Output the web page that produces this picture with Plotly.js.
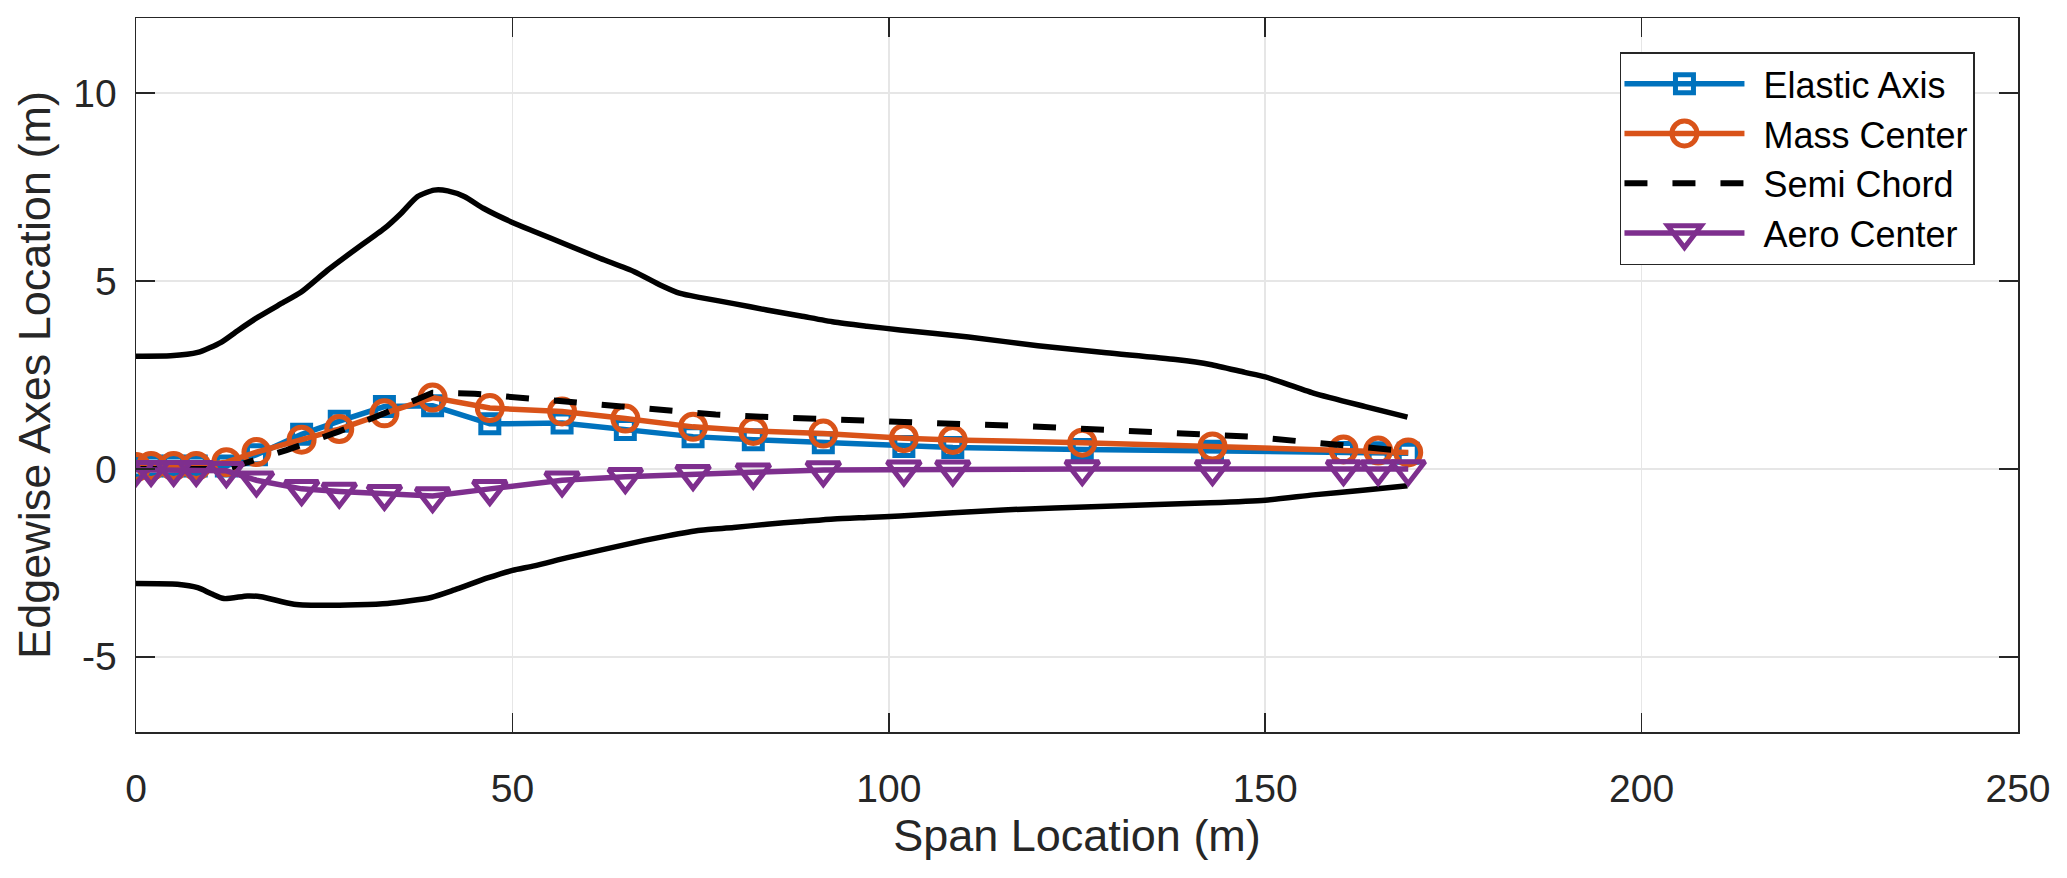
<!DOCTYPE html>
<html>
<head>
<meta charset="utf-8">
<script src="https://cdn.plot.ly/plotly-3.0.1.min.js"></script>
<style>
  html, body { margin: 0; padding: 0; background: #ffffff; }
  #chart { width: 2067px; height: 878px; }
</style>
</head>
<body>
<div id="chart"></div>
<script>
// ---- data ----
const span = [0, 2, 5, 8, 12, 16, 22, 27, 33, 39.4, 47, 56.6, 65, 74, 82, 91.3, 102, 108.5, 125.7, 143, 160.4, 165, 169];
const elasticAxis = [0.05, 0.08, 0.08, 0.08, 0.08, 0.38, 0.92, 1.27, 1.66, 1.68, 1.2, 1.22, 1.05, 0.86, 0.78, 0.7, 0.6, 0.57, 0.52, 0.47, 0.44, 0.43, 0.42];
const massCenter = [0.05, 0.08, 0.08, 0.08, 0.18, 0.45, 0.78, 1.06, 1.48, 1.9, 1.62, 1.53, 1.34, 1.12, 1.01, 0.94, 0.82, 0.77, 0.7, 0.6, 0.52, 0.49, 0.44];
const aeroCenter = [-0.02, -0.02, -0.02, -0.02, -0.05, -0.3, -0.53, -0.6, -0.66, -0.72, -0.53, -0.3, -0.21, -0.13, -0.09, -0.03, -0.01, -0.01, 0, 0, 0, 0, 0];

const chordSpan = [0, 12, 20, 27, 33, 39.4, 45, 50, 57, 64, 70, 77, 83, 90, 96, 102, 110, 117, 124, 131, 137, 144, 148, 156, 162, 169];
const semiChord = [0, 0, 0.5, 1.0, 1.48, 2.03, 2.0, 1.91, 1.8, 1.67, 1.55, 1.45, 1.39, 1.33, 1.29, 1.24, 1.19, 1.15, 1.09, 1.04, 0.99, 0.93, 0.86, 0.71, 0.6, 0.47];

const leSpan = [0, 4.6, 8.2, 11.3, 13.5, 16.2, 19.2, 21.9, 25.4, 29, 33, 35.2, 37.4, 39.6, 41.4, 43.6, 46.2, 50, 52.9, 57.3, 61.7, 66.2, 69.7, 72.3, 75, 79.4, 83.8, 88.3, 92.7, 97.1, 101.5, 110.6, 119.8, 128.9, 138.1, 142.7, 147.3, 150, 156.4, 163.3, 168.9];
const leadingEdge = [3.0, 3.01, 3.1, 3.37, 3.68, 4.04, 4.39, 4.7, 5.28, 5.82, 6.4, 6.8, 7.25, 7.42, 7.4, 7.25, 6.93, 6.56, 6.32, 5.96, 5.6, 5.25, 4.89, 4.67, 4.56, 4.4, 4.23, 4.07, 3.91, 3.8, 3.7, 3.51, 3.28, 3.09, 2.91, 2.78, 2.57, 2.45, 2.02, 1.66, 1.38];

const teSpan = [0, 5.5, 8.2, 10, 11.7, 14.8, 16.6, 21, 25.4, 33.4, 39.2, 42.3, 46.7, 50, 52.9, 57.3, 61.7, 66.2, 70.6, 75, 79.4, 83.8, 88.3, 92.7, 97.1, 101.5, 115.2, 128.9, 142.7, 150, 156.4, 163.3, 168.9];
const trailingEdge = [-3.05, -3.07, -3.16, -3.32, -3.45, -3.38, -3.4, -3.6, -3.63, -3.58, -3.42, -3.22, -2.9, -2.7, -2.58, -2.36, -2.16, -1.96, -1.78, -1.63, -1.56, -1.47, -1.4, -1.33, -1.29, -1.25, -1.09, -0.99, -0.9, -0.83, -0.69, -0.56, -0.45];

const xTicks = [0, 50, 100, 150, 200, 250];
const yTicks = [-5, 0, 5, 10];
const seriesNames = ['Elastic Axis', 'Mass Center', 'Semi Chord', 'Aero Center'];

// ---- styling ----
const FONT = '"Liberation Sans", Arial, Helvetica, sans-serif';
const AX = '#262626';
const C_BLUE = '#0072BD', C_ORANGE = '#D95319', C_PURPLE = '#7E2F8E';
const LW = 5.5, MLW = 5;

const traces = [
  { x: leSpan, y: leadingEdge, mode: 'lines', showlegend: false,
    line: { color: '#000', width: LW, shape: 'spline', smoothing: 0.6 }, hoverinfo: 'skip' },
  { x: teSpan, y: trailingEdge, mode: 'lines', showlegend: false,
    line: { color: '#000', width: LW, shape: 'spline', smoothing: 0.6 }, hoverinfo: 'skip' },
  { x: span, y: elasticAxis, name: seriesNames[0], mode: 'lines+markers',
    line: { color: C_BLUE, width: LW },
    marker: { symbol: 'square-open', size: 18, color: C_BLUE, line: { color: C_BLUE, width: MLW } } },
  { x: span, y: massCenter, name: seriesNames[1], mode: 'lines+markers',
    line: { color: C_ORANGE, width: LW },
    marker: { symbol: 'circle-open', size: 25, color: C_ORANGE, line: { color: C_ORANGE, width: MLW } } },
  { x: chordSpan, y: semiChord, name: seriesNames[2], mode: 'lines',
    line: { color: '#000', width: 6, dash: '23px,25px' } },
  { x: span, y: aeroCenter, name: seriesNames[3], mode: 'lines+markers',
    line: { color: C_PURPLE, width: LW },
    marker: { symbol: 'triangle-down-open', size: 29, color: C_PURPLE, line: { color: C_PURPLE, width: MLW } } }
];

const axisCommon = {
  showline: true, linecolor: AX, linewidth: 1.5, mirror: 'ticks',
  ticks: 'inside', ticklen: 19, tickwidth: 1.5, tickcolor: AX,
  showgrid: true, gridcolor: '#e6e6e6', gridwidth: 1.5,
  zeroline: false, automargin: false,
  tickfont: { family: FONT, size: 39, color: AX }
};

const layout = {
  width: 2067, height: 878,
  paper_bgcolor: '#ffffff', plot_bgcolor: '#ffffff',
  margin: { l: 136, r: 49, t: 18, b: 146 },
  showlegend: true,
  xaxis: Object.assign({}, axisCommon, {
    range: [0, 250], tickvals: xTicks, ticktext: xTicks.map(String),
    ticklabelstandoff: 22,
    title: { text: 'Span Location (m)', font: { family: FONT, size: 45, color: AX }, standoff: 10 }
  }),
  yaxis: Object.assign({}, axisCommon, {
    range: [-7, 12], tickvals: yTicks, ticktext: yTicks.map(String),
    ticklabelstandoff: 10,
    title: { text: 'Edgewise Axes Location (m)', font: { family: FONT, size: 45, color: AX }, standoff: 8 }
  }),
  legend: {
    x: 0.7885, y: 0.952, xanchor: 'left', yanchor: 'top',
    bgcolor: '#ffffff', bordercolor: AX, borderwidth: 1.5,
    font: { family: FONT, size: 36, color: '#000' },
    itemwidth: 132, tracegroupgap: 0
  }
};

Plotly.newPlot('chart', traces, layout, { staticPlot: true, displayModeBar: false }).then(function (gd) {
  // long line swatches and full-size markers in the legend, like the reference
  const items = gd.querySelectorAll('.legend .traces');
  const plotTraces = gd.querySelectorAll('.scatterlayer .trace');
  items.forEach(function (it, i) {
    it.querySelectorAll('.legendlines path').forEach(function (p) { p.setAttribute('d', 'M3,0h120'); });
    const lp = it.querySelector('.legendpoints path.scatterpts');
    const tr = plotTraces[i + 2];
    const pp = tr ? tr.querySelector('.points path.point') : null;
    if (lp && pp) {
      lp.setAttribute('d', pp.getAttribute('d'));
      lp.style.strokeWidth = pp.style.strokeWidth;
      lp.setAttribute('transform', 'translate(63,0)');
    }
  });
});
</script>
</body>
</html>
